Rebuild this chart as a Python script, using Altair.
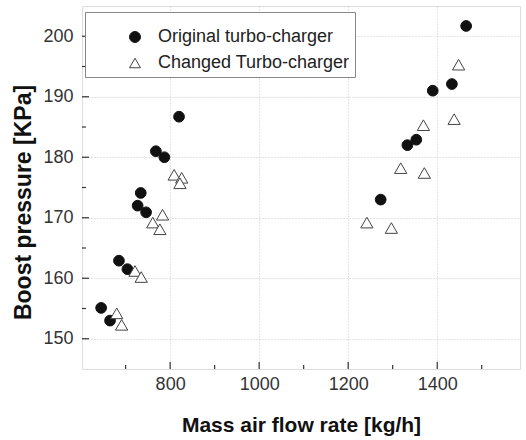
import altair as alt
import pandas as pd

orig_x = [645, 665, 685, 704, 727, 734, 746, 768, 787, 820, 1273, 1333, 1353, 1390, 1433, 1465]
orig_y = [155.1, 153.0, 162.9, 161.5, 172.0, 174.1, 170.9, 181.0, 180.0, 186.7, 173.0, 182.0, 182.9, 191.0, 192.1, 201.7]

chg_x = [680, 691, 721, 735, 761, 783, 777, 809, 826, 822, 1242, 1297, 1318, 1371, 1369, 1438, 1448]
chg_y = [154.2, 152.3, 161.2, 160.2, 169.2, 170.5, 168.1, 177.1, 176.6, 175.7, 169.2, 168.3, 178.2, 177.4, 185.3, 186.3, 195.3]

series = ["Original turbo-charger", "Changed Turbo-charger"]

x_major = [800, 1000, 1200, 1400]
x_minor = [700, 900, 1100, 1300, 1500]
y_major = [150, 160, 170, 180, 190, 200]
y_minor = [155, 165, 175, 185, 195]

X_DOM = [602, 1586]
Y_DOM = [145, 205]
W, H = 438, 363

df = pd.DataFrame({
    "x": orig_x + chg_x,
    "y": orig_y + chg_y,
    "s": [series[0]] * len(orig_x) + [series[1]] * len(chg_x),
})

FONT = "Liberation Sans"

xs = alt.Scale(domain=X_DOM, nice=False, zero=False)
ys = alt.Scale(domain=Y_DOM, nice=False, zero=False)

points = alt.Chart(df).mark_point(strokeWidth=1, opacity=1, filled=False).encode(
    x=alt.X("x:Q", scale=xs, axis=alt.Axis(
        values=x_major, format="d", title="Mass air flow rate [kg/h]", grid=True, gridDash=[1, 2],
        gridColor="#c8c8c8", domain=False, ticks=False, labelPadding=6,
        labelFontSize=18, labelColor="#333333", labelFont=FONT,
        titleFont=FONT, titleFontSize=21, titleFontWeight="bold", titleColor="#111111",
        titleY=56, titleBaseline="middle")),
    y=alt.Y("y:Q", scale=ys, axis=alt.Axis(
        values=y_major, format="d", title="Boost pressure [KPa]", grid=True, gridDash=[1, 2],
        gridColor="#c8c8c8", domain=False, ticks=False, labelPadding=9,
        labelFontSize=18, labelColor="#333333", labelFont=FONT,
        titleFont=FONT, titleFontSize=23, titleFontWeight="bold", titleColor="#111111",
        titleX=-59, titleY=196, titleAngle=270, titleAlign="center", titleBaseline="middle")),
    shape=alt.Shape("s:N", scale=alt.Scale(domain=series, range=["circle", "triangle-up"]),
                    legend=alt.Legend(title=" ", titleFontSize=8, titlePadding=3,
                                      orient="none", legendX=3, legendY=6,
                                      fillColor="white", strokeColor="#888888", padding=5,
                                      symbolOffset=36, labelOffset=14, labelFontSize=18,
                                      labelFont=FONT, labelColor="#222222", rowPadding=8,
                                      symbolSize=120, symbolStrokeWidth=1, labelLimit=400,
                                      labelExpr="datum.label + '     '")),
    size=alt.condition(alt.datum.s == series[1], alt.value(150), alt.value(115)),
    fill=alt.Fill("s:N", scale=alt.Scale(domain=series, range=["#111111", "#ffffff"]), legend=None),
    stroke=alt.Stroke("s:N", scale=alt.Scale(domain=series, range=["#111111", "#444444"]), legend=None),
)

xt_major = alt.Chart(pd.DataFrame({"v": x_major})).mark_rule(color="#333333", strokeWidth=1.2).encode(
    x=alt.X("v:Q", scale=xs), y=alt.value(H), y2=alt.value(H - 7))
xt_minor = alt.Chart(pd.DataFrame({"v": x_minor})).mark_rule(color="#333333", strokeWidth=1.2).encode(
    x=alt.X("v:Q", scale=xs), y=alt.value(H), y2=alt.value(H - 4))
yt_major = alt.Chart(pd.DataFrame({"v": y_major})).mark_rule(color="#333333", strokeWidth=1.2).encode(
    y=alt.Y("v:Q", scale=ys), x=alt.value(0), x2=alt.value(7))
yt_minor = alt.Chart(pd.DataFrame({"v": y_minor})).mark_rule(color="#333333", strokeWidth=1.2).encode(
    y=alt.Y("v:Q", scale=ys), x=alt.value(0), x2=alt.value(4))

chart = alt.layer(points, xt_major, xt_minor, yt_major, yt_minor).properties(
    width=W, height=H,
    autosize=alt.AutoSizeParams(type="none"),
    padding={"left": 82, "top": 6, "right": 6, "bottom": 71},
).configure_view(stroke="#222222", strokeWidth=1.6).configure(background="white")

chart.save("out.html", embed_options={"renderer": "svg", "actions": False})
